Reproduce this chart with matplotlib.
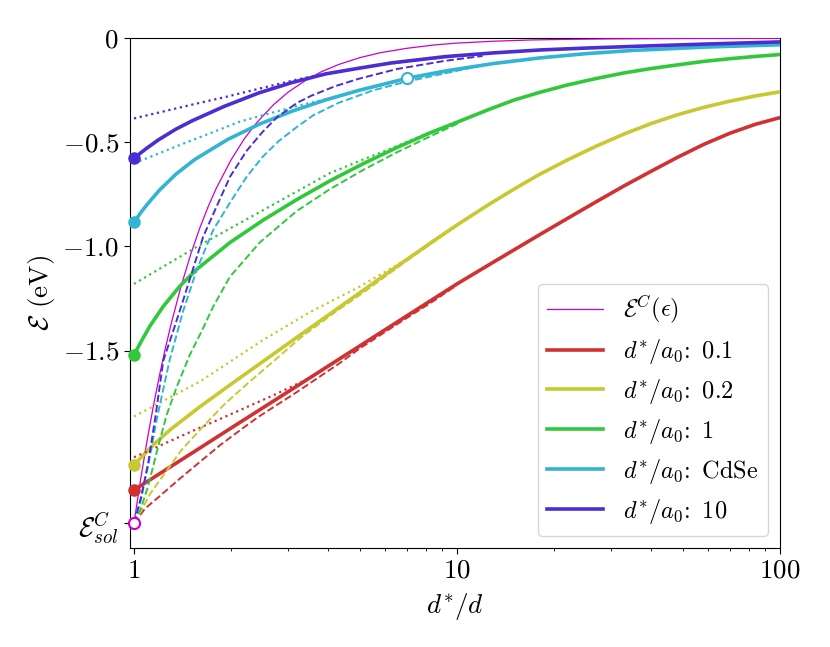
import matplotlib
matplotlib.use('Agg')
import matplotlib.pyplot as plt
from matplotlib.ticker import NullFormatter

plt.rcParams['mathtext.fontset'] = 'cm'
plt.rcParams['font.family'] = 'serif'
plt.rcParams['font.serif'] = ['cmr10']
plt.rcParams['axes.unicode_minus'] = False

# energia de solvatacao (ponto inicial comum das curvas tracejadas)
E_SOL = -2.33

# curva E^C(eps)
x_eps = [1, 1.05, 1.1, 1.15, 1.2, 1.25, 1.3, 1.4, 1.5, 1.6, 1.7, 1.8, 2.0, 2.2, 2.4, 2.7,
         3.0, 3.4, 3.8, 4.3, 5.0, 5.8, 7.0, 8.5, 10, 13, 17, 22, 30, 50, 100]
y_eps = [-2.33, -2.113, -1.926, -1.762, -1.618, -1.491, -1.379, -1.189, -1.036, -0.91,
         -0.806, -0.719, -0.583, -0.481, -0.405, -0.32, -0.259, -0.202, -0.161, -0.126,
         -0.093, -0.069, -0.048, -0.032, -0.023, -0.014, -0.008, -0.005, -0.0026, -0.0009,
         -0.0002]

labels = ['0.1', '0.2', '1', 'CdSe', '10']
colors = ['#d03232', '#c8c832', '#32c83c', '#32b4d2', '#4b2dd2']

# curvas cheias (resultado completo)
x_full = [
    [1, 1.5, 2, 3, 4, 5, 7, 10, 12.5, 15, 18, 22, 27, 33, 40, 48, 58, 70, 84, 100],
    [1, 1.15, 1.3, 1.6, 2, 2.575, 3.3, 4.14, 5.25, 6.5, 8.45, 10, 12.5, 15, 18, 22, 27, 33,
     40, 48, 58, 70, 84, 100],
    [1, 1.06, 1.121, 1.232, 1.388, 1.564, 1.983, 2.515, 3.19, 4.04, 5.13, 6.51, 8.24, 10.2,
     12.5, 15, 18, 22, 27, 33, 40, 48, 58, 70, 84, 100],
    [1, 1.05, 1.1, 1.2, 1.35, 1.54, 1.95, 2.44, 3.1, 3.92, 5.0, 7.02, 9.21, 13, 18.1, 25,
     35.2, 59.3, 100],
    [1, 1.05, 1.1, 1.19, 1.35, 1.52, 1.91, 2.44, 3.08, 3.92, 5.0, 6.28, 9.21, 13, 18.1, 25,
     35, 59, 100],
]
y_full = [
    [-2.17, -1.996, -1.872, -1.698, -1.574, -1.478, -1.333, -1.18, -1.09, -1.017, -0.944,
     -0.865, -0.785, -0.708, -0.638, -0.573, -0.51, -0.456, -0.413, -0.381],
    [-2.049, -1.952, -1.878, -1.77, -1.661, -1.54, -1.421, -1.313, -1.199, -1.097, -0.974,
     -0.897, -0.8, -0.725, -0.654, -0.584, -0.518, -0.459, -0.409, -0.368, -0.332, -0.302,
     -0.277, -0.257],
    [-1.521, -1.448, -1.382, -1.288, -1.19, -1.11, -0.981, -0.873, -0.775, -0.685, -0.602,
     -0.525, -0.455, -0.398, -0.343, -0.297, -0.26, -0.224, -0.193, -0.166, -0.145,
     -0.128, -0.111, -0.098, -0.087, -0.078],
    [-0.884, -0.837, -0.797, -0.729, -0.652, -0.583, -0.486, -0.413, -0.349, -0.296, -0.249,
     -0.192, -0.157, -0.121, -0.094, -0.074, -0.058, -0.042, -0.031],
    [-0.577, -0.55, -0.526, -0.488, -0.436, -0.395, -0.326, -0.262, -0.213, -0.171, -0.143,
     -0.118, -0.088, -0.07, -0.056, -0.047, -0.039, -0.0276, -0.0173],
]

# aproximacao pontilhada
x_dot = [
    [1, 1.5, 2, 2.7, 3.5, 4.66, 6, 8, 10],
    [1, 1.6, 2.5, 3.5, 5, 7, 10],
    [1, 1.564, 2.515, 4.04, 5.13, 6.51, 8.24, 10.2],
    [1, 1.4, 1.9, 2.13, 2.5, 3.2, 4.0, 5.0, 7.0, 10.0],
    [1, 1.5, 1.93, 2.5, 3.2, 3.6, 5, 7, 10],
]
y_dot = [
    [-2.013, -1.89, -1.805, -1.715, -1.632, -1.508, -1.40, -1.275, -1.18],
    [-1.817, -1.649, -1.451, -1.316, -1.193, -1.06, -0.90],
    [-1.18, -1.002, -0.825, -0.648, -0.582, -0.518, -0.452, -0.395],
    [-0.601, -0.51, -0.43, -0.40, -0.37, -0.325, -0.29, -0.25, -0.195, -0.155],
    [-0.385, -0.32, -0.281, -0.238, -0.198, -0.181, -0.143, -0.11, -0.084],
]

# aproximacao tracejada (parte de E_sol)
x_dash = [
    [1, 1.081, 1.2, 1.388, 1.6, 1.846, 2.1, 2.42, 3.19, 4.34, 5.0, 6.5, 8.5, 10],
    [1, 1.044, 1.12, 1.247, 1.4, 1.601, 1.9, 2.259, 2.575, 3.3, 4.2, 5.25, 7, 10],
    [1, 1.05, 1.107, 1.18, 1.262, 1.36, 1.49, 1.638, 1.759, 1.983, 2.455, 3.19, 4.04, 5.13,
     6.51, 8.24, 10.2],
    [1, 1.05, 1.11, 1.18, 1.29, 1.42, 1.564, 1.759, 2.0, 2.234, 2.5, 2.8, 3.2, 3.59, 4.3,
     5.5, 6.9, 9.2, 12],
    [1, 1.05, 1.107, 1.17, 1.232, 1.33, 1.421, 1.52, 1.638, 1.8, 1.983, 2.234, 2.5, 2.77,
     3.2, 3.55, 4.2, 4.95, 6.5, 9.2, 12],
]
y_dash = [
    [-2.33, -2.26, -2.20, -2.115, -2.035, -1.955, -1.89, -1.82, -1.70, -1.56, -1.49, -1.375,
     -1.26, -1.185],
    [-2.33, -2.281, -2.19, -2.089, -1.98, -1.881, -1.76, -1.655, -1.58, -1.435, -1.315,
     -1.21, -1.068, -0.90],
    [-2.33, -2.26, -2.15, -1.98, -1.81, -1.67, -1.52, -1.392, -1.289, -1.145, -0.98, -0.83,
     -0.725, -0.632, -0.548, -0.472, -0.405],
    [-2.33, -2.22, -2.04, -1.82, -1.545, -1.31, -1.113, -0.921, -0.78, -0.665, -0.57,
     -0.495, -0.425, -0.37, -0.31, -0.25, -0.21, -0.168, -0.13],
    [-2.33, -2.21, -2.04, -1.80, -1.55, -1.395, -1.257, -1.113, -0.953, -0.81, -0.665,
     -0.54, -0.45, -0.38, -0.31, -0.275, -0.23, -0.195, -0.148, -0.108, -0.085],
]

# ponto aberto sobre a curva CdSe
x_cdse_pt = 7.02
y_cdse_pt = -0.192

fig = plt.figure(figsize=(8.3, 6.47), dpi=100)
ax = fig.add_axes([0.1566, 0.1535, 0.7831, 0.7873])

ax.plot(x_eps, y_eps, color='#cc00cc', lw=0.9, label=r'$\mathcal{E}^C(\epsilon)$', zorder=3)

for i in range(len(labels)):
    c = colors[i]
    ax.plot(x_full[i], y_full[i], color=c, lw=2.6,
            label=r'$d^{\!*}\!/a_0$: $\,$' + labels[i], zorder=4)
    ax.plot(x_dot[i], y_dot[i], color=c, lw=1.6, linestyle=':', zorder=5)
    ax.plot(x_dash[i], y_dash[i], color=c, lw=1.4, linestyle='--', zorder=5)
    ax.plot(x_full[i][0], y_full[i][0], 'o', color=c, markersize=8, zorder=6, clip_on=False)

ax.plot(x_cdse_pt, y_cdse_pt, 'o', markersize=8, markerfacecolor='white',
        markeredgecolor=colors[3], markeredgewidth=1.5, zorder=7)
ax.plot(1, E_SOL, 'o', markersize=8, markerfacecolor='white',
        markeredgecolor='#cc00cc', markeredgewidth=1.5, zorder=7, clip_on=False)

ax.set_xscale('log')
ax.set_xlim(0.972, 100)
ax.set_ylim(-2.447, 0)

ax.set_xticks([1, 10, 100])
ax.set_xticklabels([r'$1$', r'$10$', r'$100$'])
ax.xaxis.set_minor_formatter(NullFormatter())
ax.set_yticks([0, -0.5, -1.0, -1.5, E_SOL])
ax.set_yticklabels([r'$0$', r'$-0.5$', r'$-1.0$', r'$-1.5$', r'$\mathcal{E}^C_{sol}$'])
ax.tick_params(labelsize=19.5)
ax.tick_params(which='major', length=4.5)

ax.set_xlabel(r'$d^{\!*}\!/d$', fontsize=19.5, labelpad=6)
ax.set_ylabel(r'$\mathcal{E}$ (eV)', fontsize=19.5)

ax.legend(loc='lower right', fontsize=17.5, handlelength=2.3, labelspacing=0.45)

fig.savefig('out.png', dpi=100)
